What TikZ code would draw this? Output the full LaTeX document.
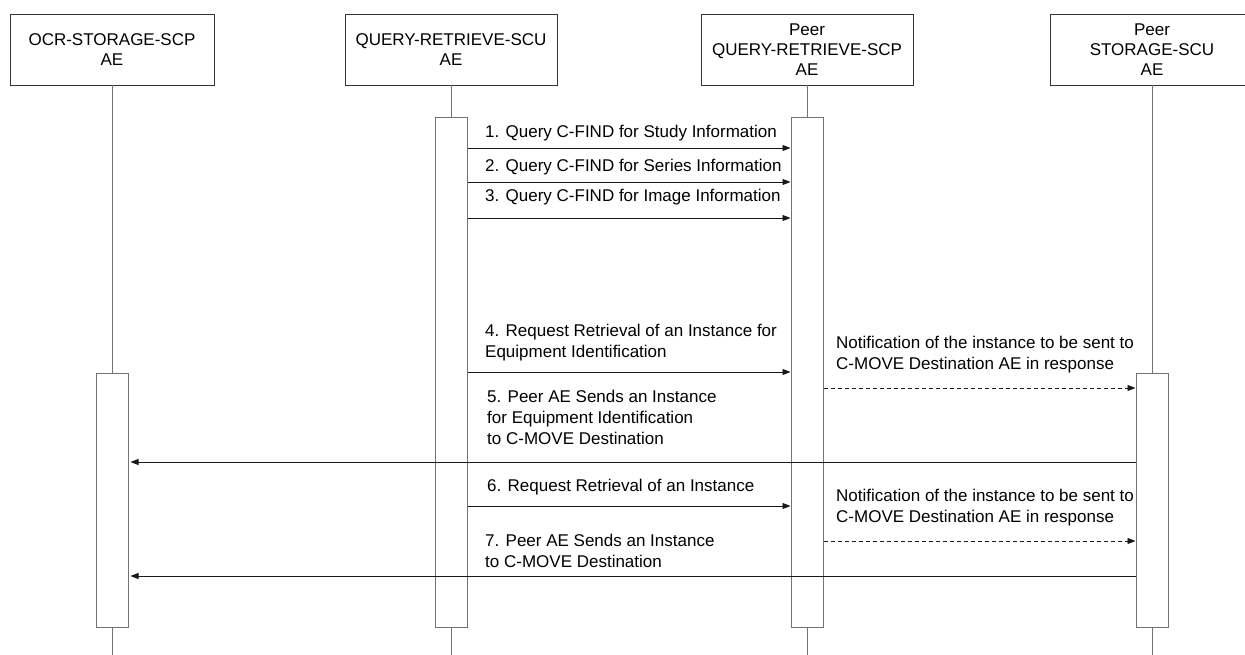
\documentclass[tikz,border=0pt]{standalone}
\usepackage{fontspec}
\setmainfont{Liberation Sans}
\usetikzlibrary{arrows.meta}
\begin{document}
\begin{tikzpicture}[x=1pt,y=-1pt,
  every node/.style={font=\fontsize{17}{21}\selectfont, inner sep=0pt},
  header/.style={draw=black!80, line width=0.9pt, minimum height=71pt,
    align=center, font=\fontsize{17}{20}\selectfont},
  lifeline/.style={draw=black!55, line width=1pt},
  actbar/.style={draw=black!55, fill=white, line width=1pt, minimum width=32pt},
  msg/.style={draw=black!90, line width=0.9pt, -{Triangle[length=8pt,width=6pt]}},
  note/.style={msg, dash pattern=on 4pt off 3pt},
  lbl/.style={anchor=west, align=left}]

\useasboundingbox (0,0) rectangle (1245,655);
\coordinate (bottom) at (0,655);

% header boxes
\node[header, minimum width=204pt] (h1) at (112,49.5) {OCR-STORAGE-SCP\\AE};
\node[header, minimum width=212pt] (h2) at (451,49.5) {QUERY-RETRIEVE-SCU\\AE};
\node[header, minimum width=212pt] (h3) at (807,49.5) {Peer\\QUERY-RETRIEVE-SCP\\AE};
\node[header, minimum width=204pt] (h4) at (1152,49.5) {Peer\\STORAGE-SCU\\AE};

% activation bars
\node[actbar, minimum height=254pt] (b1) at (112,500) {};
\node[actbar, minimum height=509pt] (b2) at (451,372.5) {};
\node[actbar, minimum height=509pt] (b3) at (807,372.5) {};
\node[actbar, minimum height=254pt] (b4) at (1152,500) {};

% lifelines
\draw[lifeline] (b1.north |- h1.south) -- (b1.north);
\draw[lifeline] (b1.south) -- (b1.south |- bottom);
\draw[lifeline] (b2.north |- h2.south) -- (b2.north);
\draw[lifeline] (b2.south) -- (b2.south |- bottom);
\draw[lifeline] (b3.north |- h3.south) -- (b3.north);
\draw[lifeline] (b3.south) -- (b3.south |- bottom);
\draw[lifeline] (b4.north |- h4.south) -- (b4.north);
\draw[lifeline] (b4.south) -- (b4.south |- bottom);

% queries
\draw[msg] (b2.east |- 0,148) -- (b3.west |- 0,148);
\node[lbl] (m1) at (485,133) {1. Query C-FIND for Study Information};
\draw[msg] (b2.east |- 0,182) -- (b3.west |- 0,182);
\node[lbl] (m2) at (485,167) {2. Query C-FIND for Series Information};
\draw[msg] (b2.east |- 0,218) -- (b3.west |- 0,218);
\node[lbl] (m3) at (485,197) {3. Query C-FIND for Image Information};

% retrieval for equipment identification
\draw[msg] (b2.east |- 0,372) -- (b3.west |- 0,372);
\node[lbl] (m4) at (485,342.5) {4. Request Retrieval of an Instance for\\Equipment Identification};
\draw[note] (b3.east |- 0,388) -- (b4.west |- 0,388);
\node[lbl] (n1) at (836,354.5) {Notification of the instance to be sent to\\C-MOVE Destination AE in response};
\draw[msg] (b4.west |- 0,462) -- ([xshift=2pt]b1.east |- 0,462);
\node[lbl] (m5) at (487,417) {5. Peer AE Sends an Instance\\for Equipment Identification\\to C-MOVE Destination};

% retrieval of an instance
\draw[msg] (b2.east |- 0,506) -- (b3.west |- 0,506);
\node[lbl] (m6) at (487,487) {6. Request Retrieval of an Instance};
\draw[note] (b3.east |- 0,541) -- (b4.west |- 0,541);
\node[lbl] (n2) at (836,507.5) {Notification of the instance to be sent to\\C-MOVE Destination AE in response};
\draw[msg] (b4.west |- 0,576) -- ([xshift=2pt]b1.east |- 0,576);
\node[lbl] (m7) at (485,550.5) {7. Peer AE Sends an Instance\\to C-MOVE Destination};
\end{tikzpicture}
\end{document}
